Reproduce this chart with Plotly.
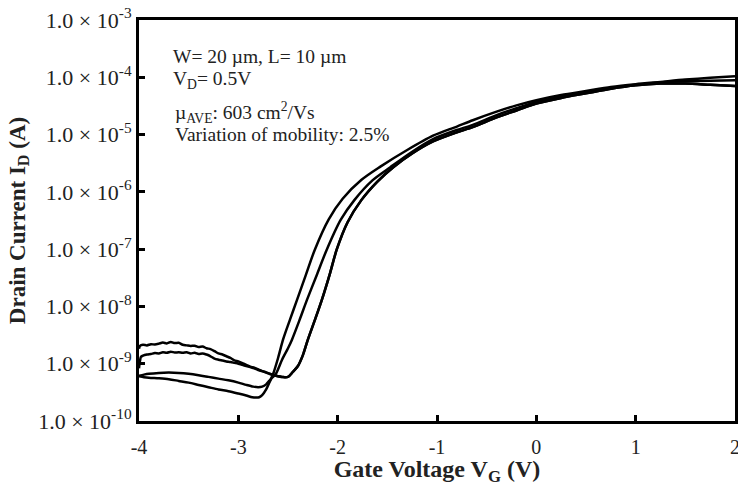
import plotly.graph_objects as go

# ---- data (gate voltage in V, drain current as log10(A)) ----
# device A (noisy off-state, upper)
A_V = [-4.00, -3.99, -3.96, -3.92, -3.88, -3.84, -3.80, -3.76, -3.72, -3.68, -3.64, -3.60,
       -3.56, -3.52, -3.48, -3.44, -3.40, -3.36, -3.32, -3.28, -3.24, -3.20, -3.16, -3.12,
       -3.08, -3.04, -3.00, -2.96, -2.92, -2.88, -2.84, -2.80, -2.76, -2.72, -2.68, -2.64,
       -2.60, -2.56]
A_logI = [-8.74, -8.69, -8.67, -8.68, -8.66, -8.665, -8.65, -8.63, -8.645, -8.62, -8.64, -8.635,
          -8.67, -8.68, -8.69, -8.685, -8.71, -8.70, -8.73, -8.745, -8.78, -8.82, -8.84, -8.87,
          -8.90, -8.94, -8.96, -8.99, -9.02, -9.05, -9.07, -9.10, -9.13, -9.15, -9.18, -9.20,
          -9.22, -9.23]
# device B (noisy off-state, lower)
B_V = [-4.00, -3.99, -3.98, -3.96, -3.92, -3.88, -3.84, -3.80, -3.76, -3.72, -3.68, -3.64,
       -3.60, -3.56, -3.52, -3.48, -3.44, -3.40, -3.36, -3.32, -3.28, -3.24, -3.20, -3.16,
       -3.12, -3.08, -3.04, -3.00, -2.96, -2.92, -2.88, -2.84, -2.80, -2.76, -2.72, -2.68,
       -2.64, -2.60, -2.56]
B_logI = [-9.08, -8.95, -8.88, -8.86, -8.84, -8.83, -8.815, -8.82, -8.80, -8.81, -8.79, -8.805,
          -8.80, -8.81, -8.80, -8.82, -8.81, -8.83, -8.82, -8.84, -8.87, -8.91, -8.93, -8.945,
          -8.96, -8.97, -8.985, -9.00, -9.02, -9.04, -9.06, -9.08, -9.11, -9.13, -9.155, -9.18,
          -9.20, -9.22, -9.23]
# shared on-state branch of A and B (right-most rising curve)
R_V = [-2.50, -2.45, -2.40, -2.35, -2.30, -2.23, -2.16, -2.08, -2.01, -1.90, -1.76, -1.60,
       -1.44, -1.25, -1.04, -0.80, -0.64, -0.40, -0.20, 0.00, 0.25, 0.50, 0.75, 1.00, 1.25,
       1.50, 1.75, 2.00]
R_logI = [-9.23, -9.14, -9.04, -8.85, -8.58, -8.24, -7.89, -7.44, -7.01, -6.53, -6.14, -5.82,
          -5.57, -5.33, -5.12, -4.96, -4.87, -4.70, -4.58, -4.46, -4.36, -4.28, -4.20, -4.14,
          -4.11, -4.11, -4.13, -4.15]
# device C (smooth off-state, upper) -> middle rising curve
C_V = [-4.00, -3.95, -3.90, -3.80, -3.70, -3.60, -3.50, -3.40, -3.30, -3.20, -3.10, -3.00,
       -2.92, -2.85, -2.80, -2.76, -2.72, -2.69, -2.66, -2.62, -2.56, -2.50, -2.46, -2.38,
       -2.31, -2.21, -2.11, -1.97, -1.83, -1.65, -1.47, -1.25, -1.04, -0.80, -0.64, -0.40,
       -0.20, 0.00, 0.25, 0.50, 0.75, 1.00, 1.25, 1.50, 1.75, 2.00]
C_logI = [-9.21, -9.19, -9.175, -9.16, -9.155, -9.16, -9.175, -9.20, -9.23, -9.26, -9.29, -9.33,
          -9.37, -9.40, -9.41, -9.40, -9.36, -9.30, -9.245, -9.17, -8.93, -8.73, -8.58, -8.22,
          -7.89, -7.45, -7.01, -6.49, -6.14, -5.80, -5.57, -5.30, -5.08, -4.92, -4.83, -4.66,
          -4.54, -4.43, -4.34, -4.26, -4.19, -4.13, -4.09, -4.07, -4.06, -4.05]
# device D (smooth off-state, lower) -> left rising curve
D_V = [-4.00, -3.95, -3.90, -3.80, -3.70, -3.60, -3.50, -3.40, -3.30, -3.20, -3.10, -3.00,
       -2.92, -2.86, -2.82, -2.79, -2.76, -2.72, -2.68, -2.65, -2.60, -2.55, -2.48, -2.41,
       -2.32, -2.23, -2.09, -1.95, -1.76, -1.57, -1.30, -1.04, -0.80, -0.64, -0.40, -0.20,
       0.00, 0.25, 0.50, 0.75, 1.00, 1.25, 1.50, 1.75, 2.00]
D_logI = [-9.22, -9.235, -9.245, -9.255, -9.27, -9.30, -9.33, -9.37, -9.41, -9.45, -9.48, -9.52,
          -9.555, -9.585, -9.59, -9.585, -9.55, -9.45, -9.30, -9.18, -8.90, -8.58, -8.23, -7.89,
          -7.45, -7.01, -6.48, -6.12, -5.79, -5.56, -5.27, -5.02, -4.86, -4.75, -4.60, -4.49,
          -4.40, -4.31, -4.24, -4.17, -4.12, -4.08, -4.04, -4.01, -3.98]

X_TICKS = [-4, -3, -2, -1, 0, 1, 2]
X_TICK_TEXT = ["-4", "-3", "-2", "-1", "0", "1", "2"]
Y_DECADES = [-10, -9, -8, -7, -6, -5, -4, -3]
Y_TICK_TEXT = ["1.0 × 10<sup>%d</sup>" % d for d in Y_DECADES]

NOTES = ["W= 20 µm, L= 10 µm", "V<sub>D</sub>= 0.5V",
         "µ<sub>AVE</sub>: 603 cm<sup>2</sup>/Vs", "Variation of mobility: 2.5%"]

FONT = "Liberation Serif, Times New Roman, serif"

fig = go.Figure()
curves = [(A_V + R_V, A_logI + R_logI), (B_V + R_V, B_logI + R_logI),
          (C_V, C_logI), (D_V, D_logI)]
for vx, ly in curves:
    fig.add_trace(go.Scatter(x=vx, y=[10 ** v for v in ly], mode="lines",
                             line=dict(color="black", width=2.5, shape="spline", smoothing=0.8),
                             hoverinfo="skip"))

fig.update_layout(
    width=738, height=486, autosize=False,
    margin=dict(l=139, r=3, t=20, b=65),
    paper_bgcolor="white", plot_bgcolor="white",
    showlegend=False,
    font=dict(family=FONT, size=20, color="#222"),
)
fig.update_xaxes(
    range=[-4, 2], tickvals=X_TICKS, ticktext=X_TICK_TEXT,
    ticks="inside", ticklen=6, tickwidth=2.5, tickcolor="black",
    showline=True, linewidth=3, linecolor="black", mirror=True,
    showgrid=False, zeroline=False, automargin=False,
    tickfont=dict(size=20, color="#222"), ticklabelstandoff=6,
    ticklabeloverflow="allow",
    title=dict(text="<b>Gate Voltage V<sub>G</sub> (V)</b>", font=dict(size=24, color="#222"),
               standoff=11),
)
fig.update_yaxes(
    type="log", range=[-10, -3],
    tickvals=[10 ** d for d in Y_DECADES], ticktext=Y_TICK_TEXT,
    ticks="inside", ticklen=6, tickwidth=2.5, tickcolor="black",
    showline=True, linewidth=3, linecolor="black", mirror=True,
    showgrid=False, zeroline=False, automargin=False,
    tickfont=dict(size=22, color="#222"), ticklabelstandoff=0,
    ticklabeloverflow="allow",
    title=dict(text="<b>Drain Current I<sub>D</sub> (A)</b>", font=dict(size=23, color="#222"),
               standoff=7),
)

note_x = [0.053, 0.053, 0.057, 0.057]
note_y = [0.908, 0.850, 0.770, 0.715]
for t, xx, yy in zip(NOTES, note_x, note_y):
    fig.add_annotation(text=t, x=xx, y=yy, xref="paper", yref="paper",
                       xanchor="left", yanchor="middle", showarrow=False,
                       font=dict(family=FONT, size=19.5, color="#222"))

fig.write_html(
    "out.html",
    config={"responsive": False, "displayModeBar": False},
    post_script="document.body.style.margin='0';document.body.style.overflow='hidden';",
)
